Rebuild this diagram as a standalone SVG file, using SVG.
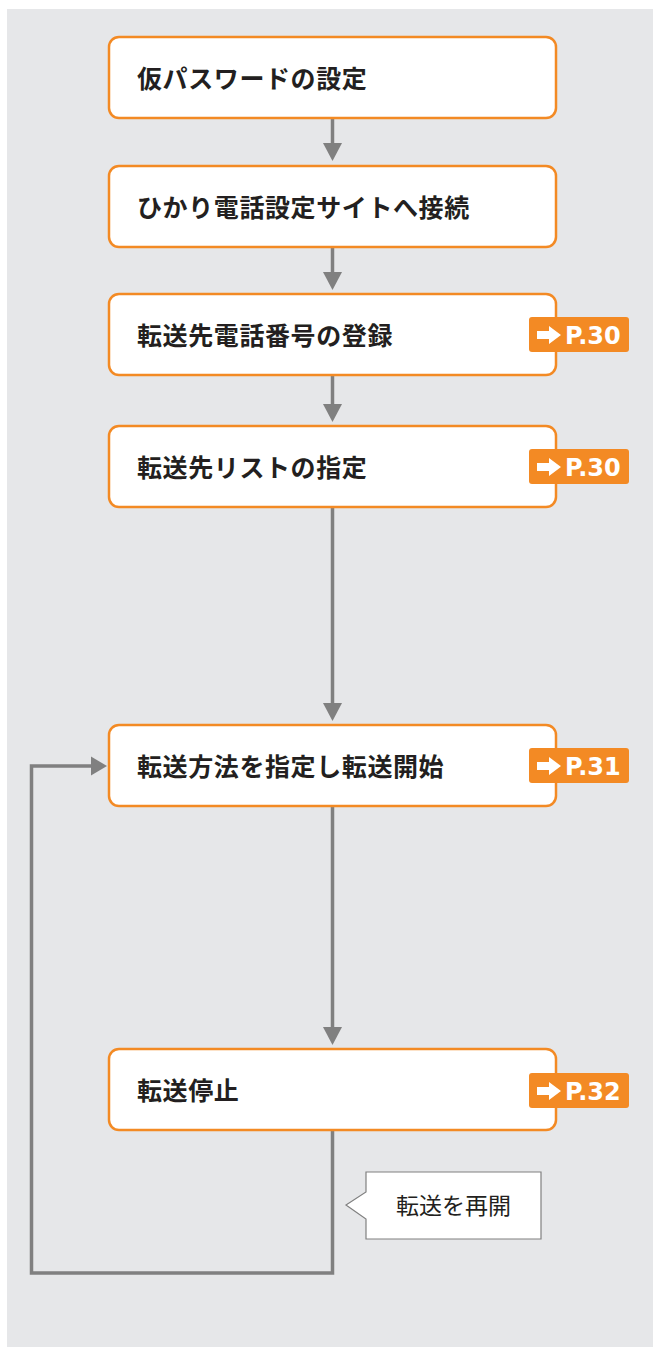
<svg xmlns="http://www.w3.org/2000/svg" width="653" height="1348" viewBox="0 0 653 1348">
<style>
.box{fill:#fff;stroke:#F38A24;stroke-width:2.5}
.lbl{font-family:"Noto Sans CJK JP","Noto Sans",sans-serif;font-weight:bold;font-size:25px;fill:#231F20;letter-spacing:0.6px}
.badge{fill:#F38A24}
.btxt{font-family:"DejaVu Sans",Verdana,sans-serif;font-weight:bold;font-size:24px;fill:#fff}
.ln{fill:none;stroke:#808080;stroke-width:3.5}
.ah{fill:#808080}
.call{fill:#fff;stroke:#808080;stroke-width:1.2}
.ctxt{font-family:"Noto Sans CJK JP","Noto Sans",sans-serif;font-size:23px;fill:#231F20}
</style>
<defs>
<g id="arr"><polygon points="0,-4 12,-4 12,-9 24,0 12,9 12,4 0,4" fill="#fff"/></g>
</defs>
<rect x="7" y="9" width="646" height="1338" fill="#E6E7E9"/>
<g id="connectors">
<line class="ln" x1="332.5" y1="118" x2="332.5" y2="145"/>
<polygon class="ah" points="323,143 342,143 332.5,161"/>
<line class="ln" x1="332.5" y1="247" x2="332.5" y2="274"/>
<polygon class="ah" points="323,272 342,272 332.5,290"/>
<line class="ln" x1="332.5" y1="375" x2="332.5" y2="406"/>
<polygon class="ah" points="323,404 342,404 332.5,422"/>
<line class="ln" x1="332.5" y1="507" x2="332.5" y2="705"/>
<polygon class="ah" points="323,703 342,703 332.5,721"/>
<line class="ln" x1="332.5" y1="806" x2="332.5" y2="1029"/>
<polygon class="ah" points="323,1027 342,1027 332.5,1045"/>
<polyline class="ln" points="332.5,1130 332.5,1273 31.5,1273 31.5,766 93,766"/>
<polygon class="ah" points="91,756.5 91,775.5 107,766"/>
</g>
<g id="n1"><rect class="box" x="109" y="37" width="447" height="81" rx="10"/><text class="lbl" x="137" y="88">仮パスワードの設定</text></g>
<g id="n2"><rect class="box" x="109" y="166" width="447" height="81" rx="10"/><text class="lbl" x="137" y="217">ひかり電話設定サイトへ接続</text></g>
<g id="n3"><rect class="box" x="109" y="294" width="447" height="81" rx="10"/><text class="lbl" x="137" y="345">転送先電話番号の登録</text>
<rect class="badge" x="529" y="317" width="100" height="35" rx="3"/><use href="#arr" x="537" y="335"/><text class="btxt" x="565" y="344">P.30</text></g>
<g id="n4"><rect class="box" x="109" y="426" width="447" height="81" rx="10"/><text class="lbl" x="137" y="477">転送先リストの指定</text>
<rect class="badge" x="529" y="449" width="100" height="35" rx="3"/><use href="#arr" x="537" y="467"/><text class="btxt" x="565" y="476">P.30</text></g>
<g id="n5"><rect class="box" x="109" y="725" width="447" height="81" rx="10"/><text class="lbl" x="137" y="776">転送方法を指定し転送開始</text>
<rect class="badge" x="529" y="748" width="100" height="35" rx="3"/><use href="#arr" x="537" y="766"/><text class="btxt" x="565" y="775">P.31</text></g>
<g id="n6"><rect class="box" x="109" y="1049" width="447" height="81" rx="10"/><text class="lbl" x="137" y="1100">転送停止</text>
<rect class="badge" x="529" y="1073" width="100" height="35" rx="3"/><use href="#arr" x="537" y="1091"/><text class="btxt" x="565" y="1100">P.32</text></g>
<g id="callout"><polygon class="call" points="366,1172 541,1172 541,1239 366,1239 366,1219 346,1205 366,1192"/><text class="ctxt" x="453.5" y="1214" text-anchor="middle">転送を再開</text></g>
</svg>
